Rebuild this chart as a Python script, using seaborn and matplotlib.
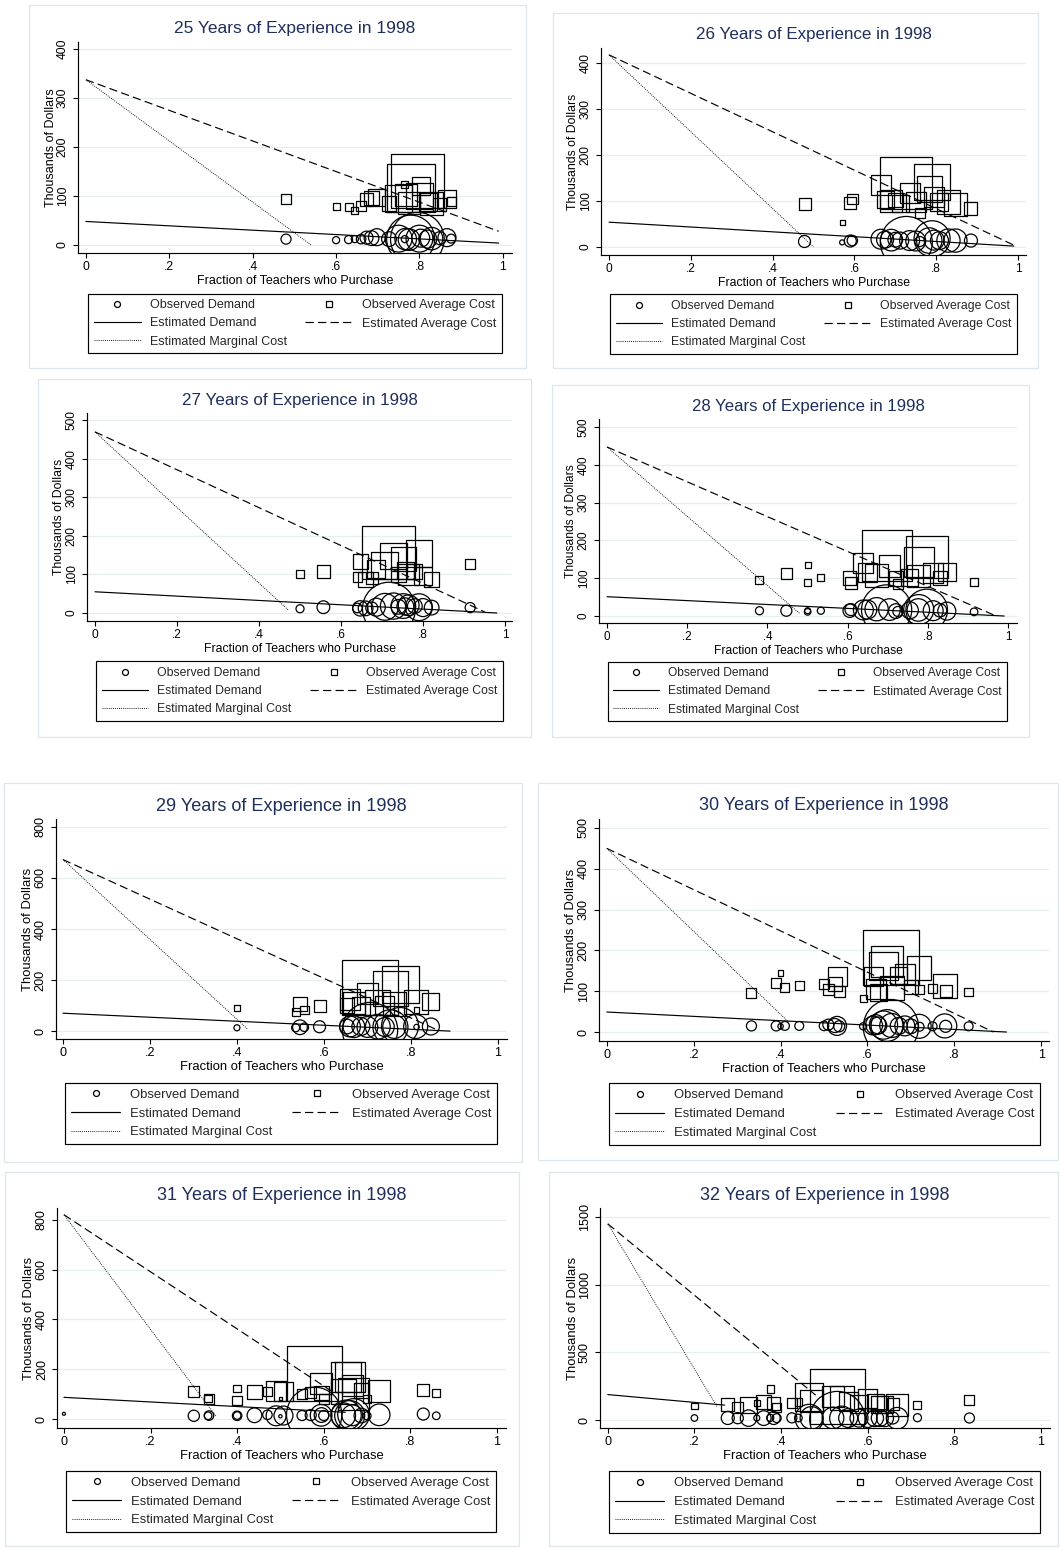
import numpy as np
import pandas as pd
import matplotlib
matplotlib.use("Agg")
import matplotlib.pyplot as plt
from matplotlib.lines import Line2D
from matplotlib.patches import Rectangle
import seaborn as sns

# --- DATA ---
years = [25, 26, 27, 28, 29, 30, 31, 32]

# 25 years
x25 = [0.48, 0.60, 0.63, 0.645, 0.66, 0.673, 0.685, 0.698, 0.727, 0.75, 0.765, 0.767, 0.775, 0.779, 0.795, 0.80, 0.803, 0.82, 0.829, 0.849, 0.866, 0.876]
w25 = [2.8, 1.4, 1.8, 1.4, 2.5, 4.7, 6, 8, 6, 20, 1.4, 13, 13, 64, 80, 20, 9, 9, 14, 4.7, 9, 2.2]
dem25 = [12, 10, 11, 12, 12, 15, 14, 16, 12, 13, 12, 12, 11, 12, 12, 13, 14, 12, 13, 14, 15, 13]
ac25 = [94, 78, 78, 70, 80, 92, 96, 96, 84, 95, 124, 102, 86, 116, 131, 100, 121, 88, 85, 82, 94, 89]
fit_dem25 = [[0, 0.99], [48, 4]]
fit_ac25 = [[0, 0.99], [337, 28]]
fit_mc25 = [[0, 0.54], [337, 0]]

# 26 years
x26 = [0.478, 0.57, 0.59, 0.595, 0.665, 0.675, 0.69, 0.70, 0.712, 0.727, 0.735, 0.75, 0.76, 0.783, 0.79, 0.795, 0.808, 0.83, 0.847, 0.885]
w26 = [4, 0.7, 4, 3, 11, 8, 13, 6, 8, 75, 11, 11, 2.8, 18, 36, 11, 9, 15, 15, 4.7]
dem26 = [12, 10, 13, 14, 17, 16, 15, 16, 14, 10, 14, 13, 12, 14, 18, 15, 14, 14, 14, 14]
ac26 = [93, 54, 95, 104, 135, 104, 100, 102, 95, 139, 117, 98, 73, 126, 142, 108, 99, 98, 93, 84]
fit_dem26 = [[0, 0.99], [54, 2]]
fit_ac26 = [[0, 0.99], [418, 4]]
fit_mc26 = [[0, 0.50], [418, 0]]

# 27 years
x27 = [0.50, 0.557, 0.64, 0.647, 0.66, 0.675, 0.686, 0.707, 0.717, 0.728, 0.74, 0.752, 0.757, 0.765, 0.78, 0.79, 0.80, 0.821, 0.915]
w27 = [1.8, 4.5, 2.5, 6.5, 6, 4, 9, 20, 78, 19, 6, 17, 8, 12, 6, 20, 9, 6, 2.8]
dem27 = [11, 15, 13, 12, 12, 13, 15, 16, 11, 18, 16, 18, 17, 20, 18, 15, 14, 14, 14]
ac27 = [100, 107, 94, 133, 87, 92, 113, 123, 158, 147, 100, 140, 111, 100, 108, 154, 95, 86, 127]
fit_dem27 = [[0, 0.98], [55, 0]]
fit_ac27 = [[0, 0.95], [470, 3]]
fit_mc27 = [[0, 0.472], [470, 7]]

# 28 years
x28 = [0.38, 0.447, 0.50, 0.50, 0.533, 0.605, 0.608, 0.639, 0.649, 0.672, 0.697, 0.704, 0.72, 0.725, 0.755, 0.776, 0.777, 0.797, 0.813, 0.83, 0.847, 0.915]
w28 = [1.8, 3.4, 1.0, 1.2, 1.4, 5, 4, 11, 10, 15, 70, 13, 6, 2.8, 8, 14, 25, 48, 11, 5, 9, 1.6]
dem28 = [14, 14, 14, 11, 14, 14, 17, 16, 17, 18, 16, 17, 13, 12, 15, 16, 17, 16, 14, 15, 13, 11]
ac28 = [94, 112, 135, 89, 103, 100, 86, 139, 116, 108, 160, 133, 100, 85, 102, 106, 144, 156, 113, 100, 116, 90]
fit_dem28 = [[0, 0.99], [51, 0]]
fit_ac28 = [[0, 0.97], [447, 0]]
fit_mc28 = [[0, 0.48], [447, 7]]

# 29 years
x29 = [0.40, 0.535, 0.545, 0.555, 0.59, 0.653, 0.66, 0.669, 0.685, 0.70, 0.706, 0.724, 0.74, 0.753, 0.762, 0.775, 0.811, 0.813, 0.846]
w29 = [1.0, 1.8, 6, 2.0, 4, 6, 12, 13, 9, 12, 85, 17, 10, 34, 15, 38, 16, 0.8, 8]
dem29 = [13, 13, 15, 15, 17, 18, 18, 17, 18, 16, 4, 17, 16, 15, 17, 20, 18, 16, 18]
ac29 = [92, 76, 106, 83, 99, 99, 125, 109, 100, 148, 172, 113, 100, 165, 106, 184, 115, 82, 117]
fit_dem29 = [[0, 0.89], [70, 0]]
fit_ac29 = [[0, 0.86], [672, 5]]
fit_mc29 = [[0, 0.425], [672, 7]]

# 30 years
x30 = [0.333, 0.39, 0.40, 0.41, 0.443, 0.50, 0.51, 0.525, 0.53, 0.535, 0.59, 0.613, 0.619, 0.625, 0.637, 0.645, 0.654, 0.656, 0.672, 0.686, 0.70, 0.719, 0.72, 0.75, 0.778, 0.78, 0.833]
w30 = [2.8, 2.8, 0.8, 2.2, 2.2, 2.5, 3.4, 5.5, 10, 3.4, 1.4, 10, 11, 8, 22, 28, 85, 16, 8, 11, 6, 16, 2.2, 2.2, 16, 4, 2.2]
dem30 = [15, 15, 14, 15, 15, 15, 18, 16, 15, 14, 14, 16, 18, 16, 17, 16, 12, 16, 15, 15, 14, 14, 13, 14, 15, 14, 14]
ac30 = [95, 119, 145, 108, 114, 118, 105, 118, 136, 99, 83, 135, 106, 98, 162, 173, 182, 109, 139, 143, 110, 158, 105, 106, 113, 100, 98]
fit_dem30 = [[0, 0.92], [49, 0]]
fit_ac30 = [[0, 0.89], [450, 0]]
fit_mc30 = [[0, 0.418], [450, 25]]

# 31 years
x31 = [0.0, 0.30, 0.333, 0.335, 0.40, 0.40, 0.44, 0.47, 0.49, 0.50, 0.507, 0.55, 0.57, 0.578, 0.594, 0.595, 0.60, 0.645, 0.652, 0.66, 0.666, 0.669, 0.687, 0.70, 0.728, 0.83, 0.86]
w31 = [0.25, 3.5, 1.6, 2.5, 1.6, 2.5, 6, 2.5, 11, 0.3, 10, 2.8, 3.4, 85, 13, 6, 2.8, 17, 25, 25, 12, 28, 6, 1.8, 13, 4, 1.6]
dem31 = [21, 13, 13, 14, 14, 13, 15, 17, 13, 11, 14, 14, 16, 17, 15, 16, 14, 15, 16, 14, 15, 18, 14, 13, 17, 20, 13]
ac31 = [np.nan, 111, 83, 80, 123, 75, 108, 110, 111, 82, 110, 99, 106, 182, 142, 104, 79, 110, 169, 169, 136, 100, 115, 79, 112, 118, 104]
fit_dem31 = [[0, 0.65], [87, 27]]
fit_ac31 = [[0, 0.625], [820, 104]]
fit_mc31 = [[0, 0.352], [820, 10]]

# 32 years
x32 = [0.20, 0.277, 0.30, 0.325, 0.344, 0.36, 0.375, 0.383, 0.39, 0.425, 0.44, 0.465, 0.47, 0.52, 0.53, 0.54, 0.555, 0.58, 0.60, 0.617, 0.628, 0.64, 0.658, 0.668, 0.715, 0.835]
w32 = [1.2, 4.7, 3.5, 7.5, 1.0, 6, 1.4, 4.7, 2.2, 2.8, 1.6, 22, 14, 13, 85, 16, 10, 9, 10, 8, 8, 8, 4, 13, 1.8, 2.8]
dem32 = [15, 15, 14, 14, 15, 14, 16, 15, 14, 16, 15, 12, 16, 15, 7, 14, 15, 14, 15, 14, 15, 14, 15, 13, 17, 15]
ac32 = [103, 118, 90, 113, 125, 133, 229, 120, 95, 128, 135, 170, 140, 174, 172, 163, 140, 120, 160, 133, 118, 114, 120, 110, 108, 148]
fit_dem32 = [[0, 0.27], [188, 110]]
fit_ac32 = [[0, 0.48], [1450, 184]]
fit_mc32 = [[0, 0.252], [1450, 98]]

obs = [(x25, w25, dem25, ac25), (x26, w26, dem26, ac26), (x27, w27, dem27, ac27), (x28, w28, dem28, ac28),
       (x29, w29, dem29, ac29), (x30, w30, dem30, ac30), (x31, w31, dem31, ac31), (x32, w32, dem32, ac32)]
fits = [(fit_dem25, fit_ac25, fit_mc25), (fit_dem26, fit_ac26, fit_mc26), (fit_dem27, fit_ac27, fit_mc27),
        (fit_dem28, fit_ac28, fit_mc28), (fit_dem29, fit_ac29, fit_mc29), (fit_dem30, fit_ac30, fit_mc30),
        (fit_dem31, fit_ac31, fit_mc31), (fit_dem32, fit_ac32, fit_mc32)]

xtick_vals = [0, 0.2, 0.4, 0.6, 0.8, 1]
xtick_labels = ['0', '.2', '.4', '.6', '.8', '1']
legend_labels = ['Observed Demand', 'Estimated Demand', 'Estimated Marginal Cost',
                 'Observed Average Cost', 'Estimated Average Cost']

# --- LAYOUT (pixel boxes: left, top, right, bottom) ---
layout = [
    dict(ax=(78, 42, 512, 253), xlim=(-0.019, 1.022), ylim=(-16.3, 414), yt=(0, 400, 100), leg=(88, 294, 502, 353), frame=(29, 5, 526, 368), k=1.0),
    dict(ax=(601, 48, 1026, 255), xlim=(-0.0196, 1.0196), ylim=(-17.4, 433), yt=(0, 400, 100), leg=(610, 295, 1017, 353), frame=(553, 13, 1038, 368), k=0.983),
    dict(ax=(87, 413, 512, 621), xlim=(-0.0195, 1.017), ylim=(-20.8, 519), yt=(0, 500, 100), leg=(96, 662, 503, 720), frame=(38, 379, 531, 737), k=0.983),
    dict(ax=(599, 419, 1017, 623), xlim=(-0.02, 1.022), ylim=(-18.5, 521), yt=(0, 500, 100), leg=(608, 663, 1007, 720), frame=(552, 385, 1029, 737), k=0.964),
    dict(ax=(56, 819, 507, 1039), xlim=(-0.016, 1.021), ylim=(-31, 831), yt=(0, 800, 200), leg=(65, 1083, 497, 1144), frame=(4, 783, 522, 1162), k=1.043),
    dict(ax=(599, 819, 1049, 1041), xlim=(-0.018, 1.018), ylim=(-22, 522), yt=(0, 500, 100), leg=(609, 1083, 1040, 1145), frame=(538, 783, 1058, 1160), k=1.041),
    dict(ax=(57, 1208, 506, 1428), xlim=(-0.016, 1.021), ylim=(-36, 847), yt=(0, 800, 200), leg=(66, 1471, 496, 1532), frame=(5, 1172, 519, 1546), k=1.039),
    dict(ax=(600, 1208, 1050, 1428), xlim=(-0.018, 1.021), ylim=(-59, 1567), yt=(0, 1500, 500), leg=(609, 1472, 1040, 1532), frame=(549, 1172, 1058, 1546), k=1.041),
]

TITLE_C = '#1f2e5a'
FRAME_C = '#dde6ea'
GRID_C = '#e6eef0'
AREA_PER_W = 18.66  # pt^2 per unit of weight
PX = 0.72           # points per pixel at 100 dpi
DASH = (0, (7, 3.6))
DOT = (0, (1, 1.3))

sns.set_theme(style="white")
plt.rcParams['font.family'] = ['Liberation Sans', 'DejaVu Sans']

W, H = 1061, 1548
fig = plt.figure(figsize=(W / 100, H / 100), dpi=100)


def box(l, t, r, b):
    return [l / W, 1 - b / H, (r - l) / W, (b - t) / H]


for yr, (xs, ws, dem, ac), (fd, fa, fm), lay in zip(years, obs, fits, layout):
    k = lay['k']
    # panel frame
    fl, ft, fr, fb = lay['frame']
    fig.add_artist(Rectangle((fl / W, 1 - fb / H), (fr - fl) / W, (fb - ft) / H, transform=fig.transFigure,
                             fill=False, edgecolor=FRAME_C, linewidth=0.9))

    ax = fig.add_axes(box(*lay['ax']))
    df = pd.DataFrame({'x': xs, 'w': ws, 'dem': dem, 'ac': ac})

    common = dict(size='w', sizes=(0, 100 * AREA_PER_W), size_norm=(0, 100), facecolors='none',
                  edgecolor='black', linewidth=0.9, legend=False, ax=ax, zorder=2)
    sns.scatterplot(data=df, x='x', y='dem', marker='o', **common)
    sns.scatterplot(data=df.dropna(), x='x', y='ac', marker='s', **common)

    sns.lineplot(x=fd[0], y=fd[1], ax=ax, color='black', lw=0.85, zorder=3)
    sns.lineplot(x=fa[0], y=fa[1], ax=ax, color='black', lw=0.85, linestyle=DASH, zorder=3)
    sns.lineplot(x=fm[0], y=fm[1], ax=ax, color='black', lw=0.65, linestyle=DOT, zorder=3)

    ax.set_xlim(*lay['xlim'])
    ax.set_ylim(*lay['ylim'])
    ax.set_xticks(xtick_vals)
    ax.set_xticklabels(xtick_labels)
    y0, y1, ys = lay['yt']
    yv = list(range(y0, y1 + 1, ys))
    ax.set_yticks(yv)
    ax.set_yticklabels([str(v) for v in yv], rotation=90, va='center')
    ax.set_xlabel('')
    ax.set_ylabel('')
    ax.tick_params(axis='both', which='both', bottom=True, left=True, direction='out',
                   length=5 * PX, width=0.8, color='black', labelsize=8.7 * k, labelcolor='black')
    ax.tick_params(axis='x', pad=2.3)
    ax.tick_params(axis='y', pad=3.0)
    for s in ['top', 'right']:
        ax.spines[s].set_visible(False)
    for s in ['left', 'bottom']:
        ax.spines[s].set_color('black')
        ax.spines[s].set_linewidth(0.85)
    ax.set_axisbelow(True)
    ax.yaxis.grid(True, color=GRID_C, linewidth=0.9)
    ax.xaxis.grid(False)
    ax.patch.set_alpha(0)

    ax.annotate(f'{yr} Years of Experience in 1998', xy=(0.5, 1), xycoords='axes fraction',
                xytext=(0, 13 * PX), textcoords='offset points', ha='center', va='center',
                fontsize=12.5 * k, color=TITLE_C)
    ax.annotate('Fraction of Teachers who Purchase', xy=(0.5, 0), xycoords='axes fraction',
                xytext=(0, -28 * PX), textcoords='offset points', ha='center', va='center',
                fontsize=9 * k, color='black')
    ax.annotate('Thousands of Dollars', xy=(0, 0.5), xycoords='axes fraction',
                xytext=(-27.5 * PX, 0), textcoords='offset points', ha='center', va='center',
                rotation=90, fontsize=9 * k, color='black')

    handles = [
        Line2D([], [], ls='none', marker='o', ms=4.3, mfc='none', mec='black', mew=0.9),
        Line2D([], [], color='black', lw=0.85),
        Line2D([], [], color='black', lw=0.65, ls=DOT),
        Line2D([], [], ls='none', marker='s', ms=4.3, mfc='none', mec='black', mew=0.9),
        Line2D([], [], color='black', lw=0.85, ls=DASH),
    ]
    ll, lt, lr, lb = lay['leg']
    leg = fig.legend(handles, legend_labels, loc='center', bbox_to_anchor=box(ll, lt, lr, lb),
                     bbox_transform=fig.transFigure, mode='expand', ncol=2, frameon=True,
                     fancybox=False, edgecolor='black', framealpha=1, fontsize=9 * k,
                     borderpad=0.45, labelspacing=0.5, handlelength=3.8, handletextpad=0.75,
                     columnspacing=1.0, borderaxespad=0)
    leg.get_frame().set_linewidth(0.85)

fig.savefig('out.png', dpi=100, facecolor='white')
